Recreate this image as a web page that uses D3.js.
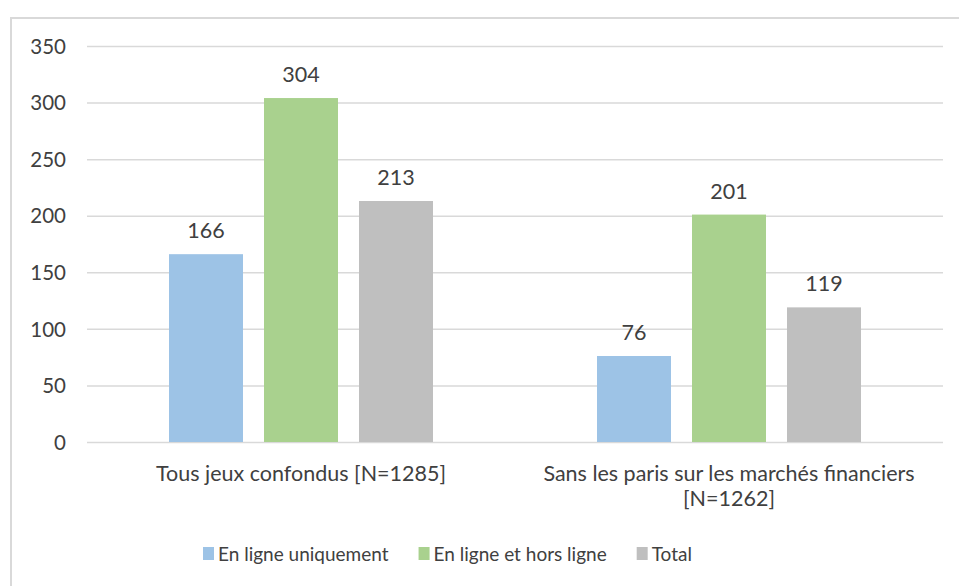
<!DOCTYPE html>
<html>
<head>
<meta charset="utf-8">
<script src="https://cdn.jsdelivr.net/npm/d3@7"></script>
<style>
  body { margin: 0; background: #fff; }
  svg text { font-family: Lato, "Liberation Sans", sans-serif; fill: #404040; }
</style>
</head>
<body>
<svg id="chart" width="959" height="586"></svg>
<script>
// data
var categories = ["Tous jeux confondus [N=1285]", "Sans les paris sur les marchés financiers|[N=1262]"];
var series_names = ["En ligne uniquement", "En ligne et hors ligne", "Total"];
var series_colors = ["#9dc3e6", "#a9d18e", "#bfbfbf"];
var values_online = [166, 76];
var values_both = [304, 201];
var values_total = [213, 119];
var y_ticks = [0, 50, 100, 150, 200, 250, 300, 350];

var svg = d3.select("#chart");
var plot_left = 87, plot_right = 943, plot_top = 46, plot_bottom = 442;

// outer frame (cut off on right and bottom like the original)
svg.append("rect")
  .attr("x", 11).attr("y", 18)
  .attr("width", 1000).attr("height", 1000)
  .style("fill", "none")
  .style("stroke", "#d9d9d9")
  .style("stroke-width", 2)

var y_scale = d3.scaleLinear().domain([0, 350]).range([plot_bottom, plot_top]);
var x0 = d3.scaleBand().domain(d3.range(categories.length)).range([plot_left, plot_right]);
var x1 = d3.scaleBand().domain(d3.range(series_names.length))
  .range([71.5, 356.5])
  .paddingInner(21/95)
  .paddingOuter(21/95/2);

// gridlines + tick labels
var y_axis = d3.axisLeft(y_scale).tickValues(y_ticks).tickSize(-(plot_right - plot_left)).tickPadding(21);
var gy = svg.append("g")
  .attr("transform", "translate(" + plot_left + ",0)")
  .call(y_axis);
gy.select(".domain").remove();
gy.selectAll(".tick line").style("stroke", "#d9d9d9").style("stroke-width", 1.5);
gy.selectAll(".tick text").style("font-size", "20.5px").style("fill", "#404040").attr("dy", "0.35em");

var rows = series_names.map(function(name, s) {
  var vals = [values_online, values_both, values_total][s];
  return vals.map(function(v, c) { return {s: s, c: c, v: v}; });
});
var flat = [].concat.apply([], rows);

var bars = svg.append("g").attr("class", "bars");
bars.selectAll("rect")
  .data(flat)
  .enter().append("rect")
  .attr("x", d=>x0(d.c) + x1(d.s))
  .attr("y", d=>y_scale(d.v))
  .attr("width", x1.bandwidth())
  .attr("height", d=>y_scale(0) - y_scale(d.v))
  .style("fill", d=>series_colors[d.s])

bars.selectAll("text")
  .data(flat)
  .enter().append("text")
  .attr("x", d=>x0(d.c) + x1(d.s) + x1.bandwidth()/2)
  .attr("y", d=>y_scale(d.v) - 16)
  .attr("text-anchor", "middle")
  .style("font-size", "21.5px")
  .text(d=>d.v)

// category labels
var cat_g = svg.append("g");
categories.forEach(function(c, i) {
  var lines = c.split("|");
  var t = cat_g.append("text")
    .attr("x", x0(i) + x0.bandwidth()/2)
    .attr("y", 481)
    .attr("text-anchor", "middle")
    .style("font-size", "21.5px");
  lines.forEach(function(l, j) {
    t.append("tspan")
      .attr("x", x0(i) + x0.bandwidth()/2)
      .attr("dy", j == 0 ? 0 : 25)
      .text(l)
  })
})

// legend
var legend = svg.append("g").attr("class", "legend");
var lx = 203;
series_names.forEach(function(name, i) {
  legend.append("rect")
    .attr("x", lx).attr("y", 547)
    .attr("width", 11).attr("height", 13)
    .style("fill", series_colors[i])
  var txt = legend.append("text")
    .attr("x", lx + 15).attr("y", 561)
    .style("font-size", "19px")
    .text(name)
  lx = lx + 15 + txt.node().getComputedTextLength() + 30;
})
</script>
</body>
</html>
